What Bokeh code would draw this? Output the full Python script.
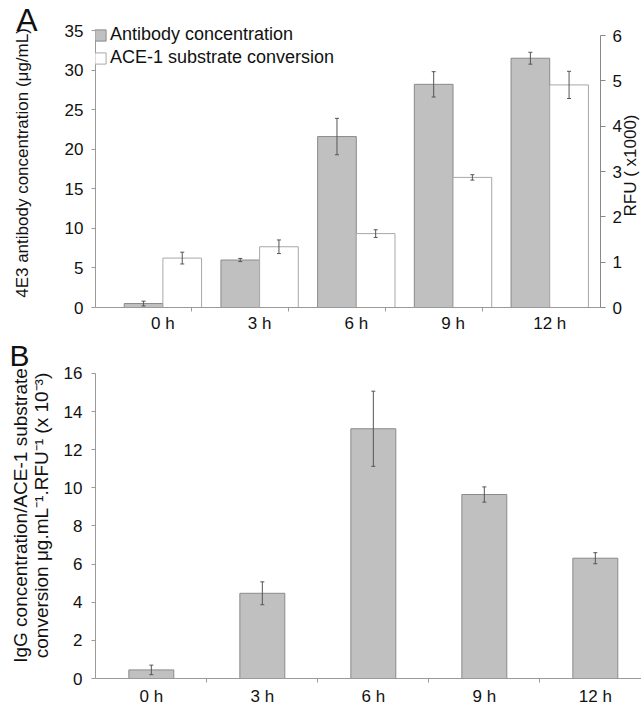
import math
from bokeh.plotting import figure
from bokeh.models import (ColumnDataSource, Range1d, LinearAxis, FixedTicker,
                          Whisker, TeeHead, Legend, LegendItem)
from bokeh.layouts import column
from bokeh.embed import file_html
from bokeh.resources import INLINE

# ---------------- data ----------------
hours = ["0 h", "3 h", "6 h", "9 h", "12 h"]
antibody = [0.5, 6.0, 21.6, 28.2, 31.5]          # µg/mL
antibody_err = [0.3, 0.2, 2.3, 1.6, 0.75]
rfu = [1.09, 1.34, 1.63, 2.87, 4.91]             # RFU x1000
rfu_err = [0.13, 0.15, 0.085, 0.06, 0.30]
ratio = [0.45, 4.47, 13.1, 9.65, 6.31]           # x 10^-3
ratio_err = [0.25, 0.6, 1.97, 0.4, 0.29]

ticks_a_left = [0, 5, 10, 15, 20, 25, 30, 35]
ticks_a_right = [0, 1, 2, 3, 4, 5, 6]
ticks_b = [0, 2, 4, 6, 8, 10, 12, 14, 16]

FONT = "Liberation Sans"
GRAY = "#c0c0c0"
EDGE = "#8a8a8a"
AXIS = "#9a9a9a"
ERR = "#555555"
TXT = "#111111"

idx = list(range(len(hours)))
labels_map = {i: h for i, h in zip(idx, hours)}

# label anchor positions (in axis units) for panel letters / side labels
A_POS = 36.39
B_POS = 17.0
RFU_LABEL_POS = 11.5


def style_axis(ax, size="17px"):
    ax.axis_line_color = AXIS
    ax.major_tick_line_color = AXIS
    ax.minor_tick_line_color = AXIS
    ax.major_label_text_font = FONT
    ax.major_label_text_font_size = size
    ax.major_label_text_color = TXT
    ax.axis_label_text_font = FONT
    ax.axis_label_text_font_style = "normal"
    ax.axis_label_text_color = TXT
    ax.major_tick_in = 0
    ax.minor_tick_in = 0
    ax.minor_tick_out = 0


def text_axis(ax, size):
    style_axis(ax, size)
    ax.axis_line_color = None
    ax.major_tick_line_color = None
    ax.minor_tick_line_color = None
    ax.major_tick_out = 0


def whisker(src, base, up, lo, **kw):
    return Whisker(base=base, upper=up, lower=lo, source=src, level="overlay",
                   line_color=ERR, line_width=1,
                   upper_head=TeeHead(size=4, line_color=ERR, line_width=1),
                   lower_head=TeeHead(size=4, line_color=ERR, line_width=1), **kw)


# ---------------- panel A ----------------
pA = figure(frame_width=505, frame_height=289,
            x_range=Range1d(-0.697, 4.525), y_range=Range1d(0, 36.52),
            output_backend="svg", toolbar_location=None,
            min_border_left=89, min_border_right=47, min_border_top=18, min_border_bottom=31)
pA.extra_y_ranges = {"rfu": Range1d(0, 6.375)}
pA.xgrid.visible = False
pA.ygrid.visible = False
pA.outline_line_color = None

srcA = ColumnDataSource(dict(
    x_ab=[i - 0.2 for i in idx], x_rfu=[i + 0.2 for i in idx],
    ab=antibody, ab_up=[v + e for v, e in zip(antibody, antibody_err)],
    ab_lo=[v - e for v, e in zip(antibody, antibody_err)],
    rfu=rfu, rfu_up=[v + e for v, e in zip(rfu, rfu_err)],
    rfu_lo=[v - e for v, e in zip(rfu, rfu_err)],
))

r_ab = pA.vbar(x="x_ab", top="ab", width=0.4, source=srcA,
               fill_color=GRAY, line_color=EDGE, line_width=1)
r_rfu = pA.vbar(x="x_rfu", top="rfu", width=0.4, source=srcA, y_range_name="rfu",
                fill_color="white", line_color="#a8a8a8", line_width=1)
pA.add_layout(whisker(srcA, "x_ab", "ab_up", "ab_lo"))
pA.add_layout(whisker(srcA, "x_rfu", "rfu_up", "rfu_lo", y_range_name="rfu"))

xa = pA.xaxis[0]
xa.ticker = FixedTicker(ticks=idx, minor_ticks=[i + 0.3 for i in idx[:-1]])
xa.major_label_overrides = labels_map
style_axis(xa)
xa.major_tick_out = 0
xa.minor_tick_out = 4
xa.major_label_standoff = 2

ya = pA.yaxis[0]
ya.ticker = FixedTicker(ticks=ticks_a_left)
ya.bounds = (0, 35)
style_axis(ya)
ya.major_tick_out = 4
ya.major_label_standoff = 8

# outer left axis: carries the panel letter and the axis title
ya2 = LinearAxis(ticker=FixedTicker(ticks=[A_POS]), major_label_overrides={A_POS: "A"})
text_axis(ya2, "32px")
ya2.major_label_standoff = 24
ya2.axis_label = "4E3 antibody concentration (\u03bcg/mL)"
ya2.axis_label_text_font_size = "17px"
ya2.axis_label_standoff = -19
pA.add_layout(ya2, "left")

ra = LinearAxis(y_range_name="rfu", ticker=FixedTicker(ticks=ticks_a_right), bounds=(0, 6))
style_axis(ra)
ra.axis_line_color = "#888888"
ra.major_tick_line_color = "#888888"
ra.major_tick_out = 5
ra.major_label_standoff = 7
pA.add_layout(ra, "right")

ra2 = LinearAxis(ticker=FixedTicker(ticks=[RFU_LABEL_POS]),
                 major_label_overrides={RFU_LABEL_POS: "RFU ( x1000)"})
text_axis(ra2, "17px")
ra2.major_label_orientation = math.pi / 2
ra2.major_label_standoff = 6
pA.add_layout(ra2, "right")

legend = Legend(items=[LegendItem(label="Antibody concentration", renderers=[r_ab]),
                       LegendItem(label="ACE-1 substrate conversion", renderers=[r_rfu])],
                location=(-2, 239), padding=0, margin=0, spacing=2,
                border_line_color=None, background_fill_alpha=0,
                glyph_width=14, glyph_height=14, label_standoff=3,
                label_height=21, label_text_font=FONT, label_text_font_size="18px",
                label_text_color=TXT)
pA.add_layout(legend)

# ---------------- panel B ----------------
pB = figure(frame_width=546, frame_height=326,
            x_range=Range1d(-0.503, 4.416), y_range=Range1d(0, 17.10),
            output_backend="svg", toolbar_location=None,
            min_border_left=95, min_border_right=0, min_border_top=14, min_border_bottom=29)
pB.xgrid.visible = False
pB.ygrid.visible = False
pB.outline_line_color = None

srcB = ColumnDataSource(dict(
    x=idx, r=ratio,
    up=[v + e for v, e in zip(ratio, ratio_err)],
    lo=[v - e for v, e in zip(ratio, ratio_err)],
))
pB.vbar(x="x", top="r", width=0.405, source=srcB, fill_color=GRAY, line_color=EDGE, line_width=1)
pB.add_layout(whisker(srcB, "x", "up", "lo"))

xb = pB.xaxis[0]
xb.ticker = FixedTicker(ticks=idx, minor_ticks=[i + 0.5 for i in idx[:-1]])
xb.major_label_overrides = labels_map
style_axis(xb)
xb.major_tick_out = 0
xb.minor_tick_out = 4
xb.major_label_standoff = 4

yb = pB.yaxis[0]
yb.ticker = FixedTicker(ticks=ticks_b)
yb.bounds = (0, 16)
style_axis(yb)
yb.major_tick_out = 4
yb.major_label_standoff = 9

yb2 = LinearAxis(ticker=FixedTicker(ticks=[B_POS]), major_label_overrides={B_POS: "B"})
text_axis(yb2, "30px")
yb2.major_label_standoff = 31
yb2.axis_label = ("IgG concentration/ACE-1 substrate\n"
                  "conversion \u03bcg.mL\u207b\u00b9.RFU\u207b\u00b9 (x 10\u207b\u00b3)")
yb2.axis_label_text_font_size = "19px"
yb2.axis_label_text_line_height = 1.0
yb2.axis_label_standoff = -46
pB.add_layout(yb2, "left")

layout = column(pA, pB)
open("out.html", "w").write(file_html(layout, INLINE))
